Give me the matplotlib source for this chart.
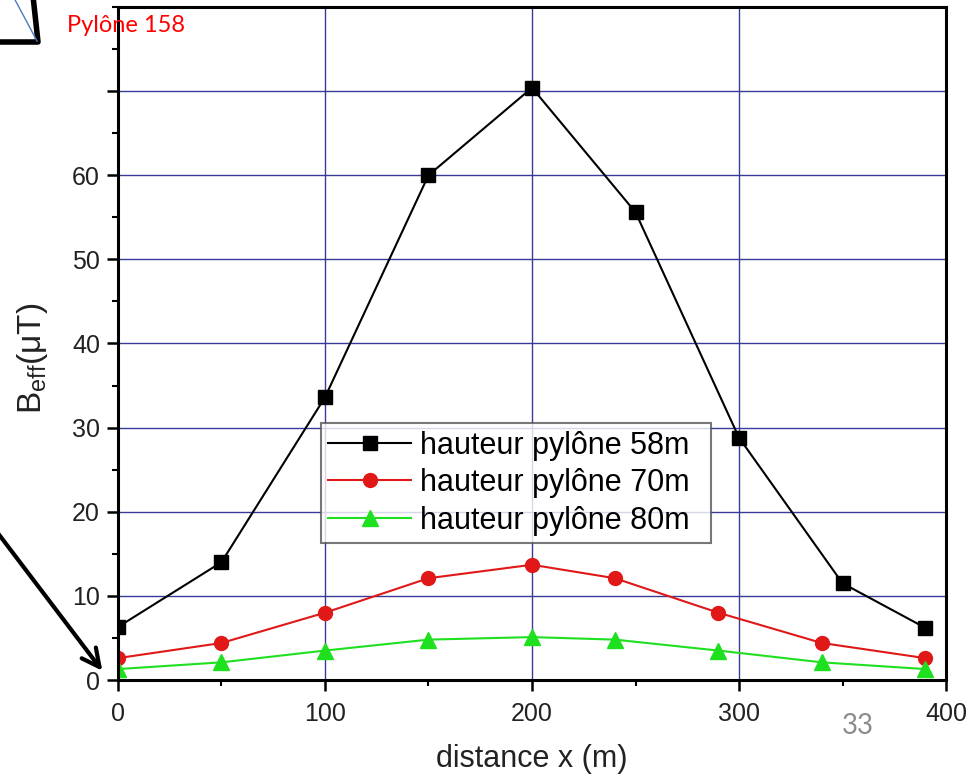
import matplotlib.pyplot as plt
from matplotlib.ticker import MultipleLocator

plt.rcParams['font.family'] = ['Liberation Sans', 'DejaVu Sans']

# values
x58 = [0, 50, 100, 150, 200, 250, 300, 350, 390]
b58 = [6.3, 14.0, 33.6, 60.0, 70.4, 55.6, 28.8, 11.5, 6.2]

x70 = [0, 50, 100, 150, 200, 240, 290, 340, 390]
b70 = [2.6, 4.4, 8.0, 12.1, 13.7, 12.1, 8.0, 4.4, 2.6]

x80 = [0, 50, 100, 150, 200, 240, 290, 340, 390]
b80 = [1.3, 2.1, 3.5, 4.8, 5.1, 4.8, 3.5, 2.1, 1.3]

labels = ['hauteur pylône 58m', 'hauteur pylône 70m', 'hauteur pylône 80m']
yticks = [0, 10, 20, 30, 40, 50, 60, 70]
ytick_labels = ['0', '10', '20', '30', '40', '50', '60', '']

fig = plt.figure(figsize=(9.7, 7.76), dpi=100)
ax = fig.add_axes([0.1216, 0.1237, 0.8537, 0.8673])

ax.plot(x58, b58, color='black', lw=1.5, marker='s', ms=10, label=labels[0])
ax.plot(x70, b70, color='#e01818', lw=1.5, marker='o', ms=10, label=labels[1])
ax.plot(x80, b80, color='#1fe01f', lw=1.5, marker='^', ms=11, label=labels[2])

ax.set_xlim(0, 400)
ax.set_ylim(0, 80)
ax.set_xticks([0, 100, 200, 300, 400])
ax.xaxis.set_minor_locator(MultipleLocator(50))
ax.set_yticks(yticks)
ax.set_yticklabels(ytick_labels)
ax.yaxis.set_minor_locator(MultipleLocator(5))
ax.grid(True, which='major', color='#3a3a9a', lw=1)
ax.set_axisbelow(True)

for s in ax.spines.values():
    s.set_linewidth(2.2)
ax.tick_params(which='major', direction='out', length=8, width=1.8,
               labelsize=18, colors='black', labelcolor='#222222')
ax.tick_params(axis='x', which='major', pad=8)
ax.tick_params(axis='y', which='major', pad=5)
ax.tick_params(which='minor', direction='out', length=4.5, width=1.5)

ax.set_xlabel('distance x (m)', fontsize=22, color='#222222')
ax.xaxis.set_label_coords(0.5, -0.095)
ax.set_ylabel(r'B$_\mathregular{eff}$($\mathregular{\mu}$T)', fontsize=24,
              color='#222222')
ax.yaxis.set_label_coords(-0.082, 0.478)

leg = ax.legend(loc='upper left', bbox_to_anchor=(0.245, 0.204, 0.471, 0.178),
                mode='expand', fontsize=22,
                frameon=True, fancybox=False, edgecolor='#555555',
                handlelength=2.7, handletextpad=0.3, borderpad=0.25,
                labelspacing=0.25, borderaxespad=0)
leg.get_frame().set_linewidth(1.5)

# slide decorations: callout box, arrow, title text, page number
fig.add_artist(plt.Line2D([0, 38, 33], [734, 734, 780], transform=None,
                          color='black', lw=4))
fig.add_artist(plt.Line2D([13, 37], [780, 735], transform=None,
                          color='#4a7cc0', lw=1))
ax.annotate('', xy=(104, 103), xytext=(-6, 248), xycoords='figure pixels',
            textcoords='figure pixels',
            arrowprops=dict(arrowstyle='->', lw=3, color='black',
                            mutation_scale=32))
fig.text(67, 751, 'Pylône 158', transform=None, color='red', fontsize=17,
         family=['Lato', 'DejaVu Sans'], va='center')
fig.text(858, 50, '33', transform=None, color='#8c8c8c', fontsize=20,
         family=['Lato', 'DejaVu Sans'], ha='center', va='center')

fig.savefig('out.png', dpi=100)
